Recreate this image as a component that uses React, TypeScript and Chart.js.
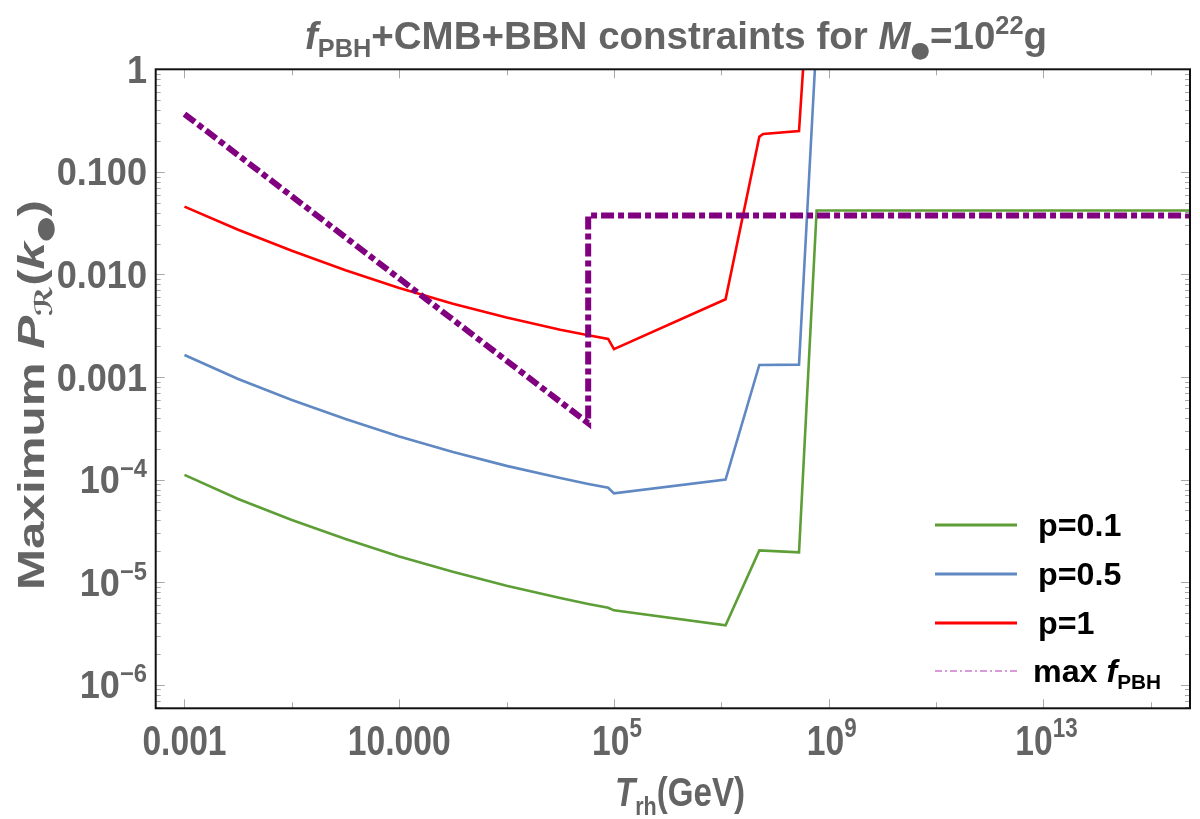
import { useEffect, useRef } from "react";
import { Chart, registerables } from "chart.js";
Chart.register(...registerables);

// ---------------- data ----------------
// p = 1 (red)
const redT = [1e-3, 1e-2, 1e-1, 1, 10, 100, 1e3, 1e4, 3.16e4, 7.8e4, 1e5, 1.2e7, 5.1e7, 6.0e7, 2.8e8, 3.33e8];
const redP = [0.0458, 0.0273, 0.017, 0.011, 0.00739, 0.00519, 0.0038, 0.00289, 0.00257, 0.00235, 0.00187, 0.00573, 0.22, 0.234, 0.25, 1.0];
// p = 0.5 (blue)
const blueT = [1e-3, 1e-2, 1e-1, 1, 10, 100, 1e3, 1e4, 3.16e4, 7.8e4, 1e5, 1.2e7, 5.1e7, 2.8e8, 5.53e8];
const blueP = [1.64e-3, 9.55e-4, 5.96e-4, 3.89e-4, 2.63e-4, 1.86e-4, 1.36e-4, 1.035e-4, 9.12e-5, 8.32e-5, 7.33e-5, 1.0e-4, 1.31e-3, 1.32e-3, 1.0];
// p = 0.1 (green)
const greenT = [1e-3, 1e-2, 1e-1, 1, 10, 100, 1e3, 1e4, 3.16e4, 7.8e4, 1e5, 1.2e7, 5.1e7, 2.8e8, 5.96e8, 5.4e15];
const greenP = [1.11e-4, 6.46e-5, 4.03e-5, 2.63e-5, 1.78e-5, 1.26e-5, 9.23e-6, 7.0e-6, 6.17e-6, 5.62e-6, 5.31e-6, 3.8e-6, 2.04e-5, 1.95e-5, 0.042, 0.042];
// max f_PBH (purple dot-dashed)
const purpleT = [1e-3, 3.31e4, 3.31e4, 5.4e15];
const purpleP = [0.366, 3.55e-4, 0.0376, 0.0376];

// axis ranges
const X_MIN = 10 ** -3.536;
const X_MAX = 10 ** 15.73;
const Y_MIN = 10 ** -6.23;
const Y_MAX = 1;

// tick labels
const xTickVals = [1e-3, 10, 1e5, 1e9, 1e13];
const xTickBase = ["0.001", "10.000", "10", "10", "10"];
const xTickExp = ["", "", "5", "9", "13"];
const xMinorTickVals = [1e-1, 1e3, 1e7, 1e11, 1e15];
const yTickVals = [1, 0.1, 0.01, 0.001, 1e-4, 1e-5, 1e-6];
const yTickBase = ["1", "0.100", "0.010", "0.001", "10", "10", "10"];
const yTickExp = ["", "", "", "", "\u22124", "\u22125", "\u22126"];

// legend
const legendLabels = ["p=0.1", "p=0.5", "p=1", "max "];
const legendColors = ["#5e9e37", "#6088c2", "#ff0000", "#d99ad9"];

const FAMILY = '"Liberation Sans", Arial, Helvetica, sans-serif';
const GRAY = "#646464";

type Run = { t: string; size: number; italic?: boolean; dy?: number; family?: string };

function fontOf(r: Run) {
  return `${r.italic ? "italic " : ""}bold ${r.size}px ${r.family ?? FAMILY}`;
}

function drawRuns(
  ctx: CanvasRenderingContext2D,
  runs: Run[],
  x: number,
  y: number,
  align: "left" | "center" | "right",
  sx: number,
  color: string,
  rotate = 0,
  targetW = 0
) {
  let w = 0;
  const ws = runs.map((r) => {
    ctx.font = fontOf(r);
    const m = ctx.measureText(r.t).width;
    w += m;
    return m;
  });
  const s = targetW ? targetW / w : sx;
  ctx.save();
  ctx.translate(x, y);
  if (rotate) ctx.rotate(rotate);
  ctx.scale(s, 1);
  ctx.fillStyle = color;
  ctx.textBaseline = "alphabetic";
  ctx.textAlign = "left";
  let cx = align === "left" ? 0 : align === "center" ? -w / 2 : -w;
  runs.forEach((r, i) => {
    ctx.font = fontOf(r);
    ctx.fillText(r.t, cx, r.dy ?? 0);
    cx += ws[i];
  });
  ctx.restore();
}

const overlay = {
  id: "overlay",
  beforeDraw(chart: any) {
    const ctx = chart.ctx as CanvasRenderingContext2D;
    ctx.save();
    ctx.fillStyle = "#ffffff";
    ctx.fillRect(0, 0, chart.width, chart.height);
    ctx.restore();
  },
  afterDraw(chart: any) {
    const ctx = chart.ctx as CanvasRenderingContext2D;
    const a = chart.chartArea;
    const xs = chart.scales.x;
    const ys = chart.scales.y;
    ctx.save();

    // ticks (inward, on all four sides)
    ctx.strokeStyle = "#a8a8a8";
    ctx.lineWidth = 1;
    const line = (x1: number, y1: number, x2: number, y2: number) => {
      ctx.beginPath();
      ctx.moveTo(x1, y1);
      ctx.lineTo(x2, y2);
      ctx.stroke();
    };
    xTickVals.forEach((v) => {
      const p = Math.round(xs.getPixelForValue(v)) + 0.5;
      line(p, a.bottom, p, a.bottom - 9);
      line(p, a.top, p, a.top + 9);
    });
    xMinorTickVals.forEach((v) => {
      const p = Math.round(xs.getPixelForValue(v)) + 0.5;
      line(p, a.bottom, p, a.bottom - 6);
      line(p, a.top, p, a.top + 6);
    });
    for (let k = -7; k <= 0; k++) {
      for (let m = 1; m <= 9; m++) {
        const v = m * 10 ** k;
        if (v < Y_MIN || v > Y_MAX) continue;
        const p = Math.round(ys.getPixelForValue(v)) + 0.5;
        const len = m === 1 ? 9 : 5;
        line(a.left, p, a.left + len, p);
        line(a.right, p, a.right - len, p);
      }
    }

    // frame
    ctx.strokeStyle = "#111111";
    ctx.lineWidth = 2;
    ctx.strokeRect(a.left, a.top, a.right - a.left, a.bottom - a.top);

    // y tick labels
    yTickVals.forEach((v, i) => {
      const py = ys.getPixelForValue(v);
      const runs: Run[] = [{ t: yTickBase[i], size: 38 }];
      if (yTickExp[i]) runs.push({ t: yTickExp[i], size: 25, dy: -16 });
      drawRuns(ctx, runs, 147, py + 13.5, "right", 0.95, GRAY);
    });

    // x tick labels
    xTickVals.forEach((v, i) => {
      const px = xs.getPixelForValue(v);
      const runs: Run[] = [{ t: xTickBase[i], size: 42 }];
      if (xTickExp[i]) runs.push({ t: xTickExp[i], size: 28, dy: -18 });
      drawRuns(ctx, runs, px + (xTickExp[i] ? 3 : 0), 755, "center", 0.8, GRAY);
    });

    // title
    drawRuns(
      ctx,
      [
        { t: "f", size: 38, italic: true },
        { t: "PBH", size: 25, dy: 8 },
        { t: "+CMB+BBN constraints for ", size: 38 },
        { t: "M", size: 38, italic: true },
        { t: "\u25CF", size: 22, dy: 8, family: '"DejaVu Sans", sans-serif' },
        { t: "=10", size: 38 },
        { t: "22", size: 25, dy: -15 },
        { t: "g", size: 38 },
      ],
      676,
      49,
      "center",
      1,
      GRAY,
      0,
      742
    );

    // x axis title
    drawRuns(
      ctx,
      [
        { t: "T", size: 40, italic: true },
        { t: "rh", size: 26, dy: 9 },
        { t: "(GeV)", size: 40 },
      ],
      680,
      806,
      "center",
      1,
      GRAY,
      0,
      130
    );

    // y axis title
    drawRuns(
      ctx,
      [
        { t: "Maximum ", size: 37 },
        { t: "P", size: 37, italic: true },
        { t: "\u211B", size: 24, italic: true, dy: 8, family: '"DejaVu Sans", sans-serif' },
        { t: "(", size: 37 },
        { t: "k", size: 37, italic: true },
        { t: "\u25CF", size: 22, dy: 8, family: '"DejaVu Sans", sans-serif' },
        { t: ")", size: 37 },
      ],
      44,
      395,
      "center",
      1,
      GRAY,
      -Math.PI / 2,
      390
    );

    // legend
    const rows = [525, 574, 623, 671];
    rows.forEach((ry, i) => {
      ctx.save();
      ctx.strokeStyle = legendColors[i];
      if (i === 3) {
        ctx.lineWidth = 2;
        ctx.setLineDash([7, 3, 2, 3]);
      } else {
        ctx.lineWidth = 3;
      }
      line(935, ry, 1017, ry);
      ctx.restore();
      const runs: Run[] =
        i === 3
          ? [
              { t: legendLabels[i], size: 31 },
              { t: "f", size: 31, italic: true },
              { t: "PBH", size: 20, dy: 7 },
            ]
          : [{ t: legendLabels[i], size: 31 }];
      drawRuns(ctx, runs, i === 3 ? 1033 : 1038, ry + 11, "left", 1.04, "#000000");
    });

    ctx.restore();
  },
};

const pts = (xs: number[], ys: number[]) => xs.map((x, i) => ({ x, y: ys[i] }));

export default function App() {
  const ref = useRef<HTMLCanvasElement | null>(null);
  useEffect(() => {
    if (!ref.current) return;
    const chart = new Chart(ref.current, {
      type: "line",
      data: {
        datasets: [
          {
            label: "max fPBH",
            data: pts(purpleT, purpleP),
            borderColor: "#800080",
            borderWidth: 6,
            borderDash: [13, 4, 6, 4],
            borderCapStyle: "butt",
            pointRadius: 0,
            order: 0,
          },
          {
            label: "p=1",
            data: pts(redT, redP),
            borderColor: "#ff0000",
            borderWidth: 2.6,
            pointRadius: 0,
            order: 1,
          },
          {
            label: "p=0.5",
            data: pts(blueT, blueP),
            borderColor: "#6088c2",
            borderWidth: 2.6,
            pointRadius: 0,
            order: 2,
          },
          {
            label: "p=0.1",
            data: pts(greenT, greenP),
            borderColor: "#5e9e37",
            borderWidth: 2.6,
            pointRadius: 0,
            order: 3,
          },
        ],
      } as any,
      options: {
        responsive: false,
        animation: false,
        devicePixelRatio: 1,
        layout: { padding: { left: 155.7, top: 69.3, right: 10, bottom: 110.7 } },
        elements: { line: { tension: 0 } },
        scales: {
          x: { type: "logarithmic", min: X_MIN, max: X_MAX, display: false },
          y: { type: "logarithmic", min: Y_MIN, max: Y_MAX, display: false },
        },
        plugins: {
          legend: { display: false },
          tooltip: { enabled: false },
          title: { display: false },
        },
      } as any,
      plugins: [overlay],
    });
    return () => chart.destroy();
  }, []);
  return (
    <div style={{ position: "absolute", left: 0, top: 0, width: 1200, height: 819, background: "#fff" }}>
      <canvas ref={ref} width={1200} height={819} style={{ display: "block" }} />
    </div>
  );
}
